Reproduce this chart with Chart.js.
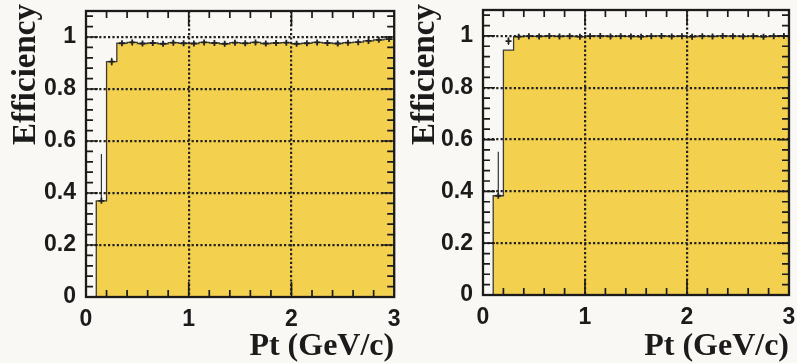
<!DOCTYPE html>
<html>
<head>
<meta charset="utf-8">
<script src="https://cdn.jsdelivr.net/npm/chart.js@4.4.1/dist/chart.umd.min.js"></script>
<style>
  html, body { margin: 0; padding: 0; background: #f9f8f4; }
  #wrap { position: relative; width: 797px; height: 363px; overflow: hidden; background: #f9f8f4; }
  .panel { position: absolute; top: 0; height: 363px; }
  #pl { left: 0; width: 400px; }
  #pr { left: 398px; width: 399px; }
</style>
</head>
<body>
<div id="wrap">
  <div class="panel" id="pl"><canvas id="cl" width="400" height="363"></canvas></div>
  <div class="panel" id="pr"><canvas id="cr" width="399" height="363"></canvas></div>
</div>
<script>
// Pt bin edges in GeV/c (29 bins from 0.1 to 3.0)
const ptEdges = [0.1, 0.2, 0.3, 0.4, 0.5, 0.6, 0.7, 0.8, 0.9, 1.0,
                 1.1, 1.2, 1.3, 1.4, 1.5, 1.6, 1.7, 1.8, 1.9, 2.0,
                 2.1, 2.2, 2.3, 2.4, 2.5, 2.6, 2.7, 2.8, 2.9, 3.0];

// Left panel: efficiency per bin
const effLeft = [0.370, 0.905,
  0.976, 0.979, 0.975, 0.977, 0.974, 0.978, 0.976, 0.975, 0.979, 0.977,
  0.974, 0.978, 0.976, 0.979, 0.975, 0.977, 0.978, 0.974, 0.976, 0.979,
  0.977, 0.975, 0.978, 0.980, 0.985, 0.989, 0.992];
const errUpLeft = [0.180, 0.015,
  0.006, 0.006, 0.006, 0.006, 0.006, 0.006, 0.006, 0.006, 0.006, 0.006,
  0.006, 0.006, 0.006, 0.006, 0.006, 0.006, 0.006, 0.006, 0.006, 0.006,
  0.006, 0.006, 0.006, 0.006, 0.006, 0.006, 0.006];
const errDownLeft = [0.000, 0.015,
  0.006, 0.006, 0.006, 0.006, 0.006, 0.006, 0.006, 0.006, 0.006, 0.006,
  0.006, 0.006, 0.006, 0.006, 0.006, 0.006, 0.006, 0.006, 0.006, 0.006,
  0.006, 0.006, 0.006, 0.006, 0.006, 0.006, 0.006];

// Right panel: efficiency histogram and measured points
const effRight = [0.383, 0.945,
  0.997, 0.999, 0.998, 1.000, 0.998, 0.999, 0.997, 0.999, 1.000, 0.998,
  0.999, 0.998, 0.997, 0.999, 1.000, 0.998, 0.999, 0.997, 0.999, 0.998,
  1.000, 0.999, 0.998, 0.999, 0.997, 0.999, 1.000];
const pointsRight = [0.383, 0.980,
  0.997, 0.999, 0.998, 1.000, 0.998, 0.999, 0.997, 0.999, 1.000, 0.998,
  0.999, 0.998, 0.997, 0.999, 1.000, 0.998, 0.999, 0.997, 0.999, 0.998,
  1.000, 0.999, 0.998, 0.999, 0.997, 0.999, 1.000];
const errUpRight = [0.170, 0.015,
  0.003, 0.003, 0.003, 0.003, 0.003, 0.003, 0.003, 0.003, 0.003, 0.003,
  0.003, 0.003, 0.003, 0.003, 0.003, 0.003, 0.003, 0.003, 0.003, 0.003,
  0.003, 0.003, 0.003, 0.003, 0.003, 0.003, 0.003];
const errDownRight = [0.000, 0.015,
  0.003, 0.003, 0.003, 0.003, 0.003, 0.003, 0.003, 0.003, 0.003, 0.003,
  0.003, 0.003, 0.003, 0.003, 0.003, 0.003, 0.003, 0.003, 0.003, 0.003,
  0.003, 0.003, 0.003, 0.003, 0.003, 0.003, 0.003];

// Axis ticks
const xLabelTicks = [0, 1, 2, 3];
const xGridTicks = [1, 2];
const xMinorTicks = [0.2, 0.4, 0.6, 0.8, 1.2, 1.4, 1.6, 1.8, 2.2, 2.4, 2.6, 2.8];
const yLabelTicks = [0, 0.2, 0.4, 0.6, 0.8, 1.0];
const yGridTicks = [0.2, 0.4, 0.6, 0.8, 1.0];
const yMinorTicks = [0.04, 0.08, 0.12, 0.16, 0.24, 0.28, 0.32, 0.36, 0.44, 0.48, 0.52, 0.56,
                     0.64, 0.68, 0.72, 0.76, 0.84, 0.88, 0.92, 0.96, 1.04, 1.08];

const xTitle = 'Pt (GeV/c)';
const yTitle = 'Efficiency';

const FILL = 'rgb(243, 209, 78)';
const INK = '#1b1b1b';
const TITLE_FONT = 'bold 33px "Liberation Serif", "Times New Roman", serif';

// Histogram outline: each point starts a bin, the last one closes it
function histPoints(vals) {
  const pts = [{ x: ptEdges[0], y: 0 }];
  vals.forEach((v, i) => pts.push({ x: ptEdges[i], y: v }));
  pts.push({ x: ptEdges[ptEdges.length - 1], y: vals[vals.length - 1] });
  return pts;
}
function centers() {
  return ptEdges.slice(0, -1).map((e, i) => (e + ptEdges[i + 1]) / 2);
}
function markerPoints(vals) {
  const c = centers();
  return vals.map((v, i) => ({ x: c[i], y: v }));
}
// Vertical error bars as separate segments
function errorSegments(vals, up, down) {
  const c = centers();
  const pts = [];
  vals.forEach((v, i) => {
    pts.push({ x: c[i], y: v - down[i] });
    pts.push({ x: c[i], y: v + up[i] });
    pts.push({ x: c[i], y: null });
  });
  return pts;
}

// Frame with inward tick marks on all four sides, plus the rotated y title
const frameTicks = {
  id: 'frameTicks',
  afterDraw(chart, args, opts) {
    const { ctx, chartArea: a, scales: { x, y } } = chart;
    ctx.save();
    ctx.strokeStyle = INK;
    ctx.lineWidth = 1.7;
    ctx.beginPath();
    const tick = (x1, y1, x2, y2) => { ctx.moveTo(x1, y1); ctx.lineTo(x2, y2); };
    xMinorTicks.forEach(v => {
      const px = x.getPixelForValue(v);
      tick(px, a.bottom, px, a.bottom - 7);
      tick(px, a.top, px, a.top + 7);
    });
    xGridTicks.forEach(v => {
      const px = x.getPixelForValue(v);
      tick(px, a.bottom, px, a.bottom - 15);
      tick(px, a.top, px, a.top + 15);
    });
    yMinorTicks.forEach(v => {
      const py = y.getPixelForValue(v);
      tick(a.left, py, a.left + 7, py);
      tick(a.right, py, a.right - 7, py);
    });
    yGridTicks.forEach(v => {
      const py = y.getPixelForValue(v);
      tick(a.left, py, a.left + 12, py);
      tick(a.right, py, a.right - 12, py);
    });
    ctx.stroke();
    ctx.lineWidth = 2.3;
    ctx.strokeRect(a.left, a.top, a.right - a.left, a.bottom - a.top);

    ctx.translate(opts.titleX, opts.titleTop);
    ctx.rotate(-Math.PI / 2);
    ctx.font = TITLE_FONT;
    ctx.fillStyle = INK;
    ctx.textAlign = 'right';
    ctx.textBaseline = 'middle';
    ctx.fillText(yTitle, 0, 0);
    ctx.restore();
  }
};

function makeChart(id, effVals, pointVals, up, down, geom) {
  return new Chart(document.getElementById(id), {
    type: 'line',
    data: {
      datasets: [
        {
          data: histPoints(effVals),
          stepped: 'before',
          fill: 'origin',
          backgroundColor: FILL,
          borderColor: '#3a3a3a',
          borderWidth: 1.3,
          pointRadius: 0,
          order: 3
        },
        {
          data: errorSegments(pointVals, up, down),
          showLine: true,
          spanGaps: false,
          borderColor: '#333',
          borderWidth: 1.2,
          pointRadius: 0,
          fill: false,
          order: 2
        },
        {
          data: markerPoints(pointVals),
          showLine: false,
          pointStyle: 'cross',
          pointRadius: 3,
          pointBorderWidth: 1.8,
          pointBorderColor: '#222',
          fill: false,
          order: 1
        }
      ]
    },
    options: {
      responsive: false,
      animation: false,
      devicePixelRatio: 1,
      layout: { padding: { left: 0, right: geom.right, top: geom.top, bottom: 0 } },
      plugins: {
        legend: { display: false },
        tooltip: { enabled: false },
        frameTicks: { titleX: geom.ytx, titleTop: 4 }
      },
      scales: {
        x: {
          type: 'linear',
          min: 0, max: 3,
          afterBuildTicks: s => { s.ticks = xLabelTicks.map(v => ({ value: v })); },
          afterFit: s => { s.height = geom.xh; s.paddingLeft = 0; s.paddingRight = 0; },
          ticks: {
            padding: 9,
            maxRotation: 0,
            color: INK,
            font: { family: '"Liberation Sans", Arial, sans-serif', size: 23, weight: 'bold' },
            callback: v => String(v)
          },
          grid: {
            z: 1,
            drawTicks: false,
            lineWidth: 2.2,
            color: c => (xGridTicks.includes(c.tick && c.tick.value) ? '#222' : 'rgba(0,0,0,0)')
          },
          border: { display: false, dash: [2.2, 2.2] },
          title: {
            display: true,
            text: xTitle,
            align: 'end',
            color: INK,
            padding: { top: 0, bottom: geom.xtb },
            font: { family: '"Liberation Serif", "Times New Roman", serif', size: 32, weight: 'bold', lineHeight: 1 }
          }
        },
        y: {
          type: 'linear',
          min: 0, max: 1.1,
          afterBuildTicks: s => { s.ticks = yLabelTicks.map(v => ({ value: v })); },
          afterFit: s => { s.width = geom.left; s.paddingTop = 0; s.paddingBottom = 0; },
          ticks: {
            padding: 10,
            color: INK,
            font: { family: '"Liberation Sans", Arial, sans-serif', size: 23, weight: 'bold' },
            callback: v => String(+v.toFixed(1))
          },
          grid: {
            z: 1,
            drawTicks: false,
            lineWidth: 2.2,
            color: c => (yGridTicks.some(g => c.tick && Math.abs(g - c.tick.value) < 1e-6) ? '#222' : 'rgba(0,0,0,0)')
          },
          border: { display: false, dash: [2.2, 2.2] }
        }
      }
    },
    plugins: [frameTicks]
  });
}

makeChart('cl', effLeft, effLeft, errUpLeft, errDownLeft,
  { left: 86, right: 5, top: 11, xh: 66, xtb: 0, ytx: 26 });
makeChart('cr', effRight, pointsRight, errUpRight, errDownRight,
  { left: 85, right: 8, top: 10, xh: 68, xtb: 0, ytx: 27 });
</script>
</body>
</html>
